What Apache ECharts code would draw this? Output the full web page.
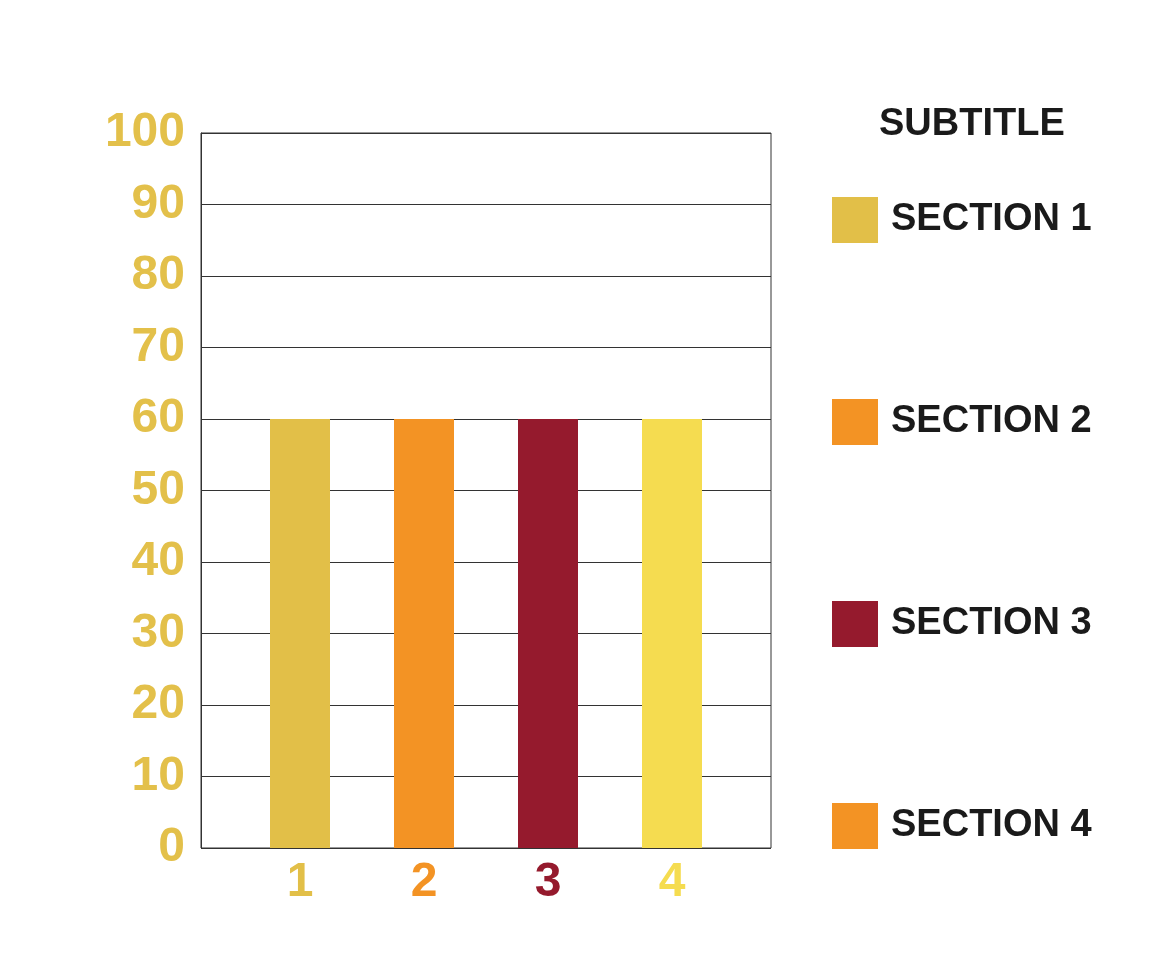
<!DOCTYPE html>
<html>
<head>
<meta charset="utf-8">
<script src="https://cdn.jsdelivr.net/npm/echarts@6/dist/echarts.min.js"></script>
<style>
html,body{margin:0;padding:0;background:#fff;}
#chart{width:1163px;height:980px;}
</style>
</head>
<body>
<div id="chart"></div>
<script>
const categories = ['1', '2', '3', '4'];
const seriesNames = ['SECTION 1', 'SECTION 2', 'SECTION 3', 'SECTION 4'];
const values = [60, 60, 60, 60];
const barColors = ['#E2BF48', '#F39324', '#951A2D', '#F5DC50'];
const legendColors = ['#E2BF48', '#F39324', '#951A2D', '#F39324'];
const yTicks = { min: 0, max: 100, interval: 10 };
const subtitle = 'SUBTITLE';

const FONT = '"Liberation Sans", Arial, Helvetica, sans-serif';
const chart = echarts.init(document.getElementById('chart'), null, { renderer: 'canvas' });

const rich = {};
categories.forEach((c, i) => {
  rich['c' + i] = { color: barColors[i], fontSize: 48, fontWeight: 'bold', fontFamily: FONT, lineHeight: 48 };
});

const series = seriesNames.map((name, i) => ({
  name: name,
  type: 'bar',
  xAxisIndex: 1,
  yAxisIndex: 1,
  stack: 'all',
  barWidth: 60,
  itemStyle: { color: barColors[i] },
  data: categories.map((c, j) => (j === i ? values[i] : '-'))
}));

chart.setOption({
  backgroundColor: '#ffffff',
  animation: false,
  title: {
    text: subtitle,
    left: 874,
    top: 101,
    textStyle: { fontSize: 38, fontWeight: 'bold', color: '#1a1a1a', fontFamily: FONT, lineHeight: 38 }
  },
  legend: {
    orient: 'vertical',
    left: 832,
    top: 197,
    padding: 0,
    itemWidth: 46,
    itemHeight: 46,
    itemGap: 156,
    icon: 'rect',
    textStyle: { fontSize: 38, fontWeight: 'bold', color: '#1a1a1a', fontFamily: FONT, lineHeight: 40, padding: [6, 0, 0, 8] },
    data: seriesNames.map((n, i) => ({ name: n, itemStyle: { color: legendColors[i] } }))
  },
  grid: [
    { left: 201, top: 133, width: 570, height: 715, show: true, borderColor: '#333333', borderWidth: 1, backgroundColor: 'transparent' },
    { left: 238, top: 133, width: 496, height: 715 }
  ],
  xAxis: [
    { gridIndex: 0, type: 'value', min: 0, max: 1, show: false },
    {
      gridIndex: 1, type: 'category', data: categories,
      axisLine: { show: false }, axisTick: { show: false },
      axisLabel: {
        margin: 11,
        formatter: (v, i) => '{c' + i + '|' + v + '}',
        rich: rich
      }
    }
  ],
  yAxis: [
    {
      gridIndex: 0, type: 'value', min: yTicks.min, max: yTicks.max, interval: yTicks.interval,
      axisLine: { show: true, lineStyle: { color: '#333333', width: 1 } },
      axisTick: { show: false },
      splitLine: { show: true, lineStyle: { color: '#333333', width: 1 } },
      axisLabel: { margin: 16, color: '#E3C04A', fontSize: 48, fontWeight: 'bold', fontFamily: FONT }
    },
    { gridIndex: 1, type: 'value', min: yTicks.min, max: yTicks.max, show: false }
  ],
  series: series
});
</script>
</body>
</html>
